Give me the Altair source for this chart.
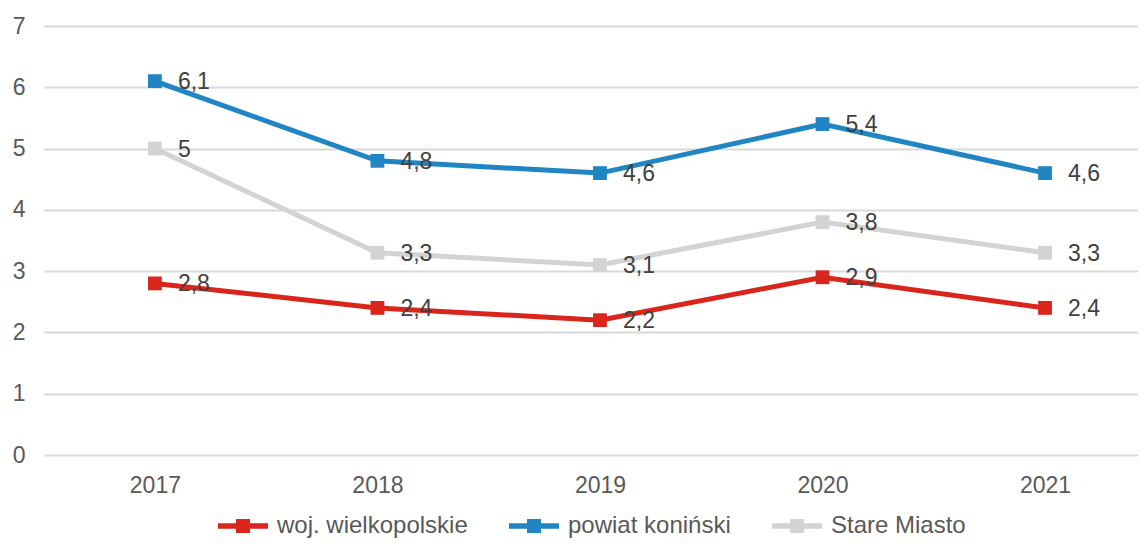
import altair as alt
import pandas as pd

years = ["2017", "2018", "2019", "2020", "2021"]
series_names = ["woj. wielkopolskie", "powiat koniński", "Stare Miasto"]
woj = [2.8, 2.4, 2.2, 2.9, 2.4]
powiat = [6.1, 4.8, 4.6, 5.4, 4.6]
stare = [5.0, 3.3, 3.1, 3.8, 3.3]
colors = ["#DA251D", "#1F86C3", "#D3D3D3"]

rows = []
for name, vals in zip(series_names, [woj, powiat, stare]):
    for y, v in zip(years, vals):
        lab = (f"{v:g}").replace(".", ",")
        rows.append({"year": y, "value": v, "series": name, "label": lab})
df = pd.DataFrame(rows)

FONT = "Liberation Sans"
FS = 23

xenc = alt.X("year:N", sort=years, title=None,
             scale=alt.Scale(type="point", padding=0.458, align=0.544),
             axis=alt.Axis(labelAngle=0, labelPadding=19, domain=False, ticks=False,
                           grid=False, labelColor="#595959", labelFontSize=FS, labelFont=FONT))
yenc = alt.Y("value:Q", title=None,
             scale=alt.Scale(domain=[0, 7], nice=False),
             axis=alt.Axis(values=[0, 1, 2, 3, 4, 5, 6, 7], domain=False, ticks=False,
                           gridColor="#D9D9D9", gridWidth=2, labelPadding=19,
                           labelColor="#595959", labelFontSize=FS, labelFont=FONT))

cscale = alt.Scale(domain=series_names, range=colors)

legend_path = "M-1.5,-0.16 H1.5 V0.16 H-1.5 Z M-0.42,-0.42 H0.42 V0.42 H-0.42 Z"
leg = alt.Legend(title=None, orient="none", direction="horizontal",
                 legendX=182, legendY=483,
                 symbolType=legend_path, symbolSize=1115,
                 symbolStrokeWidth=0, symbolOpacity=1, labelOffset=17,
                 columnPadding=40, labelLimit=0,
                 labelFontSize=24, labelFont=FONT,
                 labelColor="#595959")
cenc = alt.Color("series:N", scale=cscale, sort=series_names, legend=leg)

base = alt.Chart(df)

lines = base.mark_line(strokeWidth=5).encode(
    x=xenc, y=yenc, color=cenc,
)

points = base.mark_point(shape="square", filled=True, size=190, opacity=1).encode(
    x=xenc, y=yenc, color=cenc,
)

texts = base.mark_text(align="left", baseline="middle", dx=23, dy=1,
                       fontSize=FS, font=FONT, color="#404040").encode(
    x=xenc, y=yenc, text="label:N",
)

chart = alt.layer(lines, points, texts).properties(
    width=1094, height=429,
    autosize=alt.AutoSizeParams(type="none"),
    padding={"left": 36, "top": 18, "right": 0, "bottom": 89},
).configure_view(stroke=None)

chart.save("out.html", embed_options={"renderer": "svg", "actions": False})
